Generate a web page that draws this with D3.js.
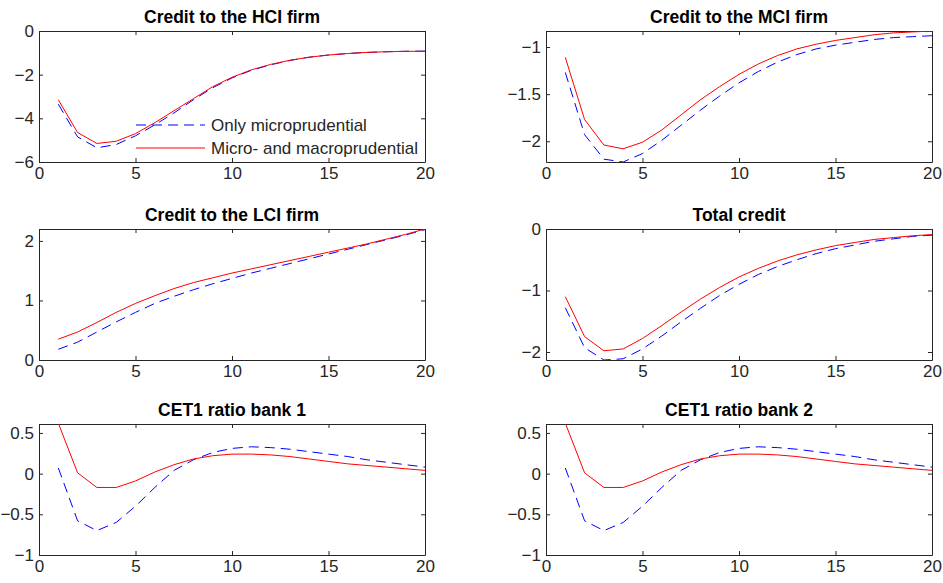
<!DOCTYPE html><html><head><meta charset="utf-8">
<script src="https://cdn.jsdelivr.net/npm/d3@7"></script>
<style>body{margin:0;background:#fff}text{font-family:"Liberation Sans",Arial,sans-serif;fill:#262626}</style></head><body>
<svg id="c" width="943" height="583"></svg>
<script>
const periods = d3.range(1,21);
const titles = ["Credit to the HCI firm","Credit to the MCI firm","Credit to the LCI firm","Total credit","CET1 ratio bank 1","CET1 ratio bank 2"];
const microOnly = [
 [-3.35,-4.85,-5.35,-5.2,-4.8,-4.3,-3.75,-3.15,-2.6,-2.15,-1.8,-1.55,-1.35,-1.2,-1.1,-1.03,-0.98,-0.95,-0.93,-0.92],
 [-1.27,-1.93,-2.19,-2.22,-2.13,-1.99,-1.83,-1.67,-1.52,-1.38,-1.26,-1.16,-1.08,-1.02,-0.98,-0.95,-0.92,-0.9,-0.89,-0.88],
 [0.18,0.3,0.47,0.64,0.8,0.95,1.07,1.18,1.28,1.37,1.46,1.54,1.62,1.7,1.78,1.86,1.94,2.02,2.1,2.19],
 [-1.28,-1.93,-2.13,-2.11,-1.95,-1.74,-1.51,-1.29,-1.08,-0.9,-0.74,-0.61,-0.5,-0.4,-0.32,-0.26,-0.2,-0.16,-0.12,-0.1],
 [0.07,-0.58,-0.7,-0.6,-0.4,-0.17,0.04,0.17,0.26,0.31,0.33,0.32,0.3,0.27,0.24,0.21,0.17,0.14,0.11,0.08],
 [0.07,-0.58,-0.7,-0.6,-0.4,-0.17,0.04,0.17,0.26,0.31,0.33,0.32,0.3,0.27,0.24,0.21,0.17,0.14,0.11,0.08]];
const microMacro = [
 [-3.15,-4.65,-5.15,-5.05,-4.7,-4.2,-3.65,-3.1,-2.55,-2.12,-1.78,-1.53,-1.34,-1.2,-1.1,-1.03,-0.98,-0.95,-0.93,-0.93],
 [-1.11,-1.77,-2.04,-2.08,-2.01,-1.88,-1.72,-1.56,-1.42,-1.29,-1.18,-1.09,-1.02,-0.97,-0.93,-0.9,-0.87,-0.85,-0.84,-0.83],
 [0.35,0.47,0.63,0.8,0.95,1.08,1.2,1.3,1.38,1.46,1.53,1.6,1.67,1.74,1.81,1.88,1.95,2.03,2.11,2.2],
 [-1.1,-1.75,-1.98,-1.95,-1.78,-1.57,-1.35,-1.14,-0.95,-0.78,-0.64,-0.52,-0.42,-0.34,-0.27,-0.22,-0.17,-0.14,-0.11,-0.09],
 [0.62,0.01,-0.17,-0.17,-0.09,0.02,0.11,0.18,0.22,0.24,0.24,0.23,0.21,0.18,0.15,0.12,0.1,0.08,0.06,0.04],
 [0.62,0.01,-0.17,-0.17,-0.09,0.02,0.11,0.18,0.22,0.24,0.24,0.23,0.21,0.18,0.15,0.12,0.1,0.08,0.06,0.04]];
const yDomains = [[-6,0],[-2.22,-0.83],[0,2.2],[-2.13,0],[-1,0.61],[-1,0.61]];
const yTicks = [[-6,-4,-2,0],[-2,-1.5,-1],[0,1,2],[-2,-1,0],[-1,-0.5,0,0.5],[-1,-0.5,0,0.5]];
const xTicks = [0,5,10,15,20];
const legendLabels = ["Only microprudential","Micro- and macroprudential"];

const svg = d3.select("#c");
const lefts=[39,546], tops=[31,229,424], W=386, H=131;
titles.forEach((t,i)=>{
  const col=i%2,row=Math.floor(i/2);
  const g=svg.append("g").attr("transform",`translate(${lefts[col]},${tops[row]})`);
  const x=d3.scaleLinear().domain([0,20]).range([0,W]);
  const y=d3.scaleLinear().domain(yDomains[i]).range([H,0]);
  svg.append("defs").append("clipPath").attr("id","cp"+i).append("rect").attr("width",W).attr("height",H);
  const ax=g.append("g").attr("transform",`translate(0,${H})`).call(d3.axisBottom(x).tickValues(xTicks).tickSizeInner(-4).tickSizeOuter(0).tickPadding(5));
  const ax2=g.append("g").call(d3.axisTop(x).tickValues(xTicks).tickSizeInner(-4).tickSizeOuter(0).tickFormat(""));
  const ay=g.append("g").call(d3.axisLeft(y).tickValues(yTicks[i]).tickSizeInner(-4).tickSizeOuter(0).tickPadding(5).tickFormat(d3.format("~g")));
  const ay2=g.append("g").attr("transform",`translate(${W},0)`).call(d3.axisRight(y).tickValues(yTicks[i]).tickSizeInner(-4).tickSizeOuter(0).tickFormat(""));
  [ax,ax2,ay,ay2].forEach(a=>{a.selectAll("path,line").attr("stroke","#262626");a.selectAll("text").style("font-size","17px").attr("fill","#262626");});
  const line=d3.line().x((d,k)=>x(periods[k])).y(d=>y(d));
  const pg=g.append("g").attr("clip-path",`url(#cp${i})`);
  pg.append("path").datum(microOnly[i]).attr("d",line).attr("fill","none").attr("stroke","#0000ff").attr("stroke-width",1).attr("stroke-dasharray","10,6");
  pg.append("path").datum(microMacro[i]).attr("d",line).attr("fill","none").attr("stroke","#ff0000").attr("stroke-width",1);
  g.append("text").attr("x",W/2).attr("y",-8).attr("text-anchor","middle").style("font-size","17.5px").style("font-weight","bold").style("fill","#000").text(t);
  if(i===0){
    legendLabels.forEach((l,k)=>{
      const ly=94+k*23;
      g.append("line").attr("x1",97).attr("x2",166).attr("y1",ly).attr("y2",ly).attr("stroke",k?"#ff0000":"#0000ff").attr("stroke-dasharray",k?null:"10,6");
      g.append("text").attr("x",172).attr("y",ly+6).style("font-size","17px").text(l);
    });
  }
});
</script></body></html>
